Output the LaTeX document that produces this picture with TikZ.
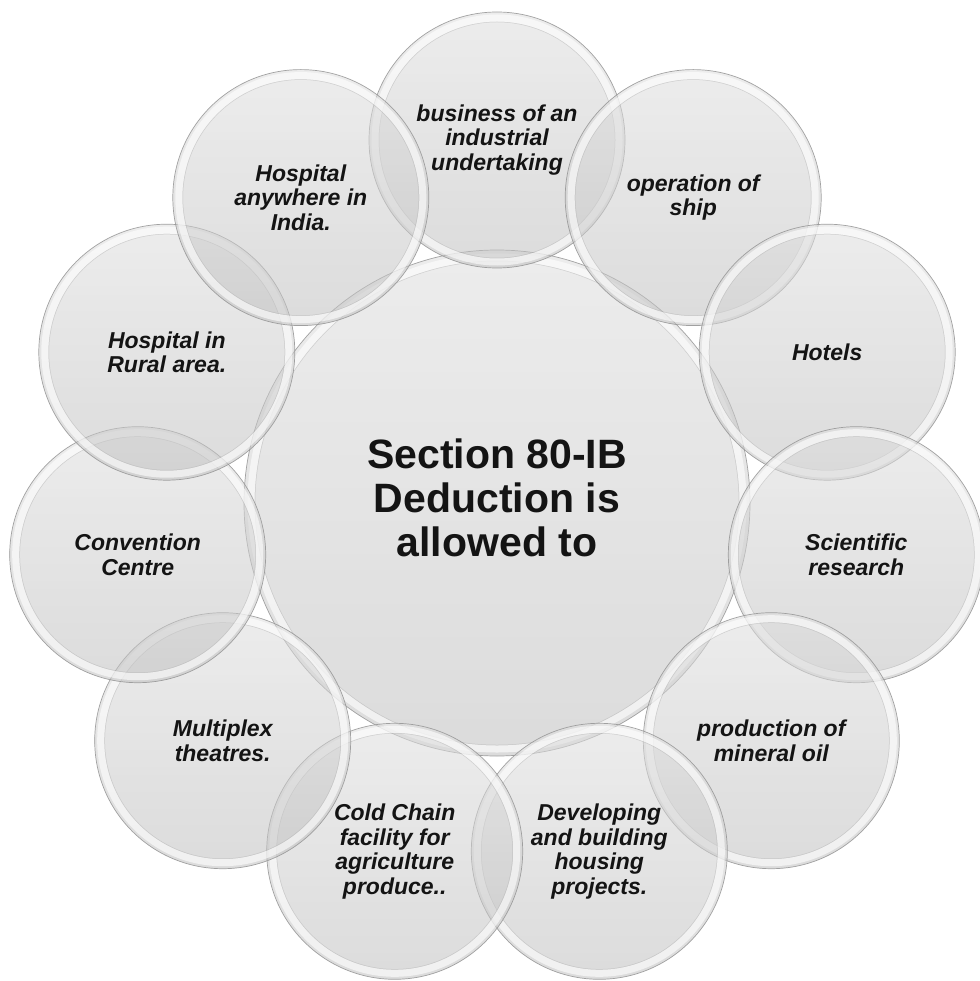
\documentclass[tikz,border=0pt]{standalone}
\usepackage{fontspec}
\setmainfont{Liberation Sans}
\usetikzlibrary{calc}
\tikzset{
  disc/.style={circle, inner sep=0pt, top color=black!13, bottom color=black!25,
    fill opacity=0.55, draw=black!42, draw opacity=0.85, line width=0.7pt},
  ring/.style={draw=white, line width=7pt, draw opacity=0.6},
  innerline/.style={draw=black!30, line width=0.5pt, draw opacity=0.5},
  otext/.style={font=\bfseries\itshape\fontsize{23}{24.5}\selectfont, align=center, text=black!92},
  mtext/.style={font=\bfseries\fontsize{41}{44}\selectfont, align=center, text=black!92}
}
\newcommand\glassdisc[4]{%
  \node[disc, minimum size=256pt] (#1) at (#2,#3) {};
  \draw[ring] (#1.center) circle[radius=122pt];
  \draw[innerline] (#1.center) circle[radius=118pt];
  \node[otext] (#1-t) at (#1.center) {#4};
}
\begin{document}
\begin{tikzpicture}[x=1pt, y=-1pt]
\useasboundingbox (0,0) rectangle (979,981);
\fill[white] (0,0) rectangle (979,981);
% central disc
\node[disc, minimum size=506pt] (main) at (497,503) {};
\draw[ring] (main.center) circle[radius=246pt];
\draw[innerline] (main.center) circle[radius=242pt];
\node[mtext] (main-t) at ([yshift=5pt]main.center) {Section 80-IB\\Deduction is\\allowed to};
% outer discs
\glassdisc{b0}{497}{140}{business of an\\industrial\\undertaking}
\glassdisc{b1}{693.2}{197.6}{operation of\\ship}
\glassdisc{b2}{827.2}{352.2}{Hotels}
\glassdisc{b3}{856.3}{554.7}{Scientific\\research}
\glassdisc{b4}{771.3}{740.7}{production of\\mineral oil}
\glassdisc{b5}{599.3}{851.3}{Developing\\and building\\housing\\projects.}
\glassdisc{b6}{394.7}{851.3}{Cold Chain\\facility for\\agriculture\\produce..}
\glassdisc{b7}{222.7}{740.7}{Multiplex\\theatres.}
\glassdisc{b8}{137.7}{554.7}{Convention\\Centre}
\glassdisc{b9}{166.8}{352.2}{Hospital in\\Rural area.}
\glassdisc{b10}{300.8}{197.6}{Hospital\\anywhere in\\India.}
\end{tikzpicture}
\end{document}
